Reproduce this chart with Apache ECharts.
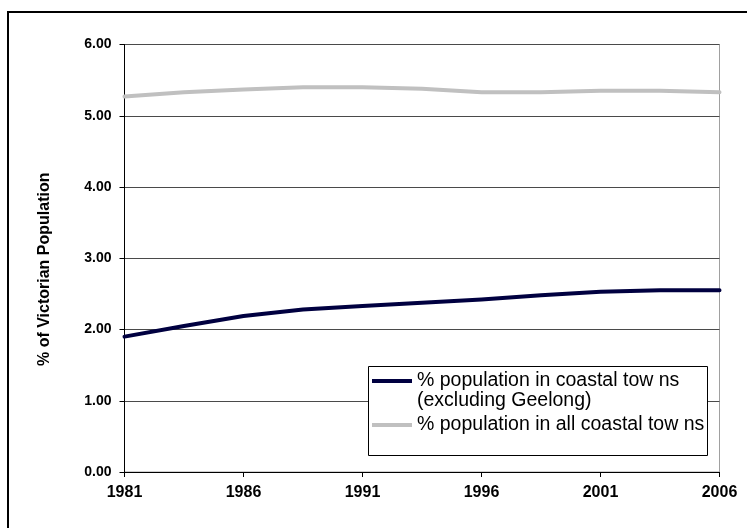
<!DOCTYPE html>
<html>
<head>
<meta charset="utf-8">
<script src="https://cdn.jsdelivr.net/npm/echarts@6/dist/echarts.min.js"></script>
<style>
  html, body { margin: 0; padding: 0; background: #fff; }
  #chart { width: 747px; height: 528px; }
</style>
</head>
<body>
<div id="chart"></div>
<script>
// Census and intercensal points, 1981-2006
const periods = ['1981', '1983-84', '1986', '1988-89', '1991', '1993-94', '1996', '1998-99', '2001', '2003-04', '2006'];

const coastalExGeelong = [1.90, 2.05, 2.19, 2.28, 2.33, 2.375, 2.42, 2.48, 2.53, 2.55, 2.55];
const allCoastal = [5.27, 5.33, 5.37, 5.40, 5.40, 5.38, 5.33, 5.33, 5.35, 5.35, 5.33];

const seriesNames = ['% population in coastal tow ns', '% population in all coastal tow ns'];
const seriesNote = '(excluding Geelong)';
const yTitle = '% of Victorian Population';

const FONT = 'Liberation Sans, Arial, sans-serif';
const LEGEND_FONT_SIZE = 19.5;

const chart = echarts.init(document.getElementById('chart'), null, { renderer: 'canvas' });

chart.setOption({
  animation: false,
  backgroundColor: '#fff',
  grid: {
    left: 124.5, right: 27.5, top: 44.5, bottom: 56,
    show: true, borderColor: '#a0a0a0', borderWidth: 1, backgroundColor: 'transparent'
  },
  graphic: [
    {
      // outer chart frame
      type: 'rect', z: 1,
      shape: { x: 8, y: 12, width: 800, height: 600 },
      style: { fill: 'none', stroke: '#000', lineWidth: 2 }
    },
    {
      // legend box
      type: 'rect', z: 3,
      shape: { x: 368.5, y: 366.5, width: 339, height: 89 },
      style: { fill: '#fff', stroke: '#000', lineWidth: 1 }
    },
    {
      // second line of the first legend entry
      type: 'text', z: 5,
      x: 417, y: 401,
      style: {
        text: seriesNote,
        fontFamily: FONT, fontSize: LEGEND_FONT_SIZE, fill: '#000',
        align: 'left', verticalAlign: 'middle'
      }
    }
  ],
  legend: {
    z: 5,
    orient: 'vertical',
    left: 367, top: 366,
    padding: 5,
    itemWidth: 40, itemHeight: 4, itemGap: 24,
    icon: 'rect',
    textStyle: { fontFamily: FONT, fontSize: LEGEND_FONT_SIZE, color: '#000', lineHeight: 20 },
    data: seriesNames
  },
  xAxis: {
    type: 'category',
    data: periods,
    boundaryGap: false,
    axisLine: { lineStyle: { color: '#000', width: 1 } },
    axisTick: { show: true, interval: 1, length: 5, inside: false, lineStyle: { color: '#000' } },
    axisLabel: {
      interval: 1, margin: 13, color: '#000',
      fontFamily: FONT, fontSize: 16, fontWeight: 'bold'
    },
    splitLine: { show: false }
  },
  yAxis: {
    type: 'value',
    min: 0, max: 6, interval: 1,
    name: yTitle,
    nameLocation: 'middle',
    nameRotate: 90,
    nameGap: 72,
    nameTextStyle: {
      fontFamily: FONT, fontSize: 16, fontWeight: 'bold', color: '#000',
      padding: [0, 22, 0, 0]
    },
    axisLine: { show: true, lineStyle: { color: '#000', width: 1 } },
    axisTick: { show: true, length: 5, inside: false, lineStyle: { color: '#000' } },
    axisLabel: {
      margin: 13, color: '#000',
      fontFamily: FONT, fontSize: 14, fontWeight: 'bold',
      formatter: function (v) { return v.toFixed(2); }
    },
    splitLine: { show: true, lineStyle: { color: '#4a4a4a', width: 1 } }
  },
  series: [
    {
      name: seriesNames[0],
      type: 'line',
      data: coastalExGeelong,
      showSymbol: false,
      symbol: 'none',
      color: '#000040',
      lineStyle: { color: '#000040', width: 4, cap: 'round', join: 'round' },
      z: 2
    },
    {
      name: seriesNames[1],
      type: 'line',
      data: allCoastal,
      showSymbol: false,
      symbol: 'none',
      color: '#c0c0c0',
      lineStyle: { color: '#c0c0c0', width: 4, cap: 'round', join: 'round' },
      z: 2
    }
  ]
});
</script>
</body>
</html>
